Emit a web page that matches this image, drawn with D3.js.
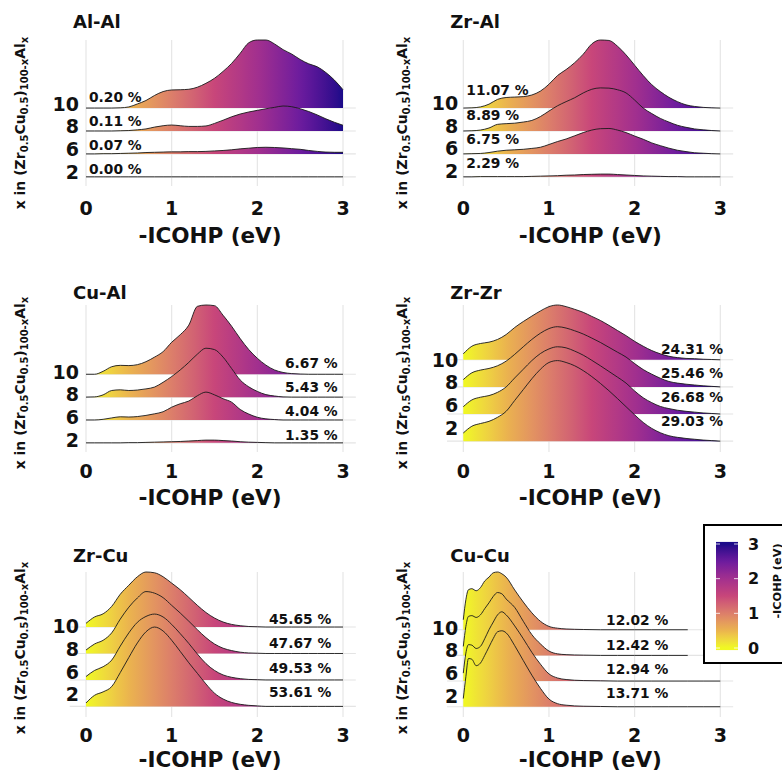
<!DOCTYPE html>
<html><head><meta charset="utf-8">
<script src="https://cdn.jsdelivr.net/npm/d3@7"></script>
<style>
body{margin:0;background:#fff}
svg{display:block}
text{font-family:"DejaVu Sans",sans-serif;font-weight:bold;fill:#111}
</style>
</head><body>
<svg id="chart" width="782" height="773"></svg>
<script>
// ---------------- DATA ----------------
const rowLabels = ["10", "8", "6", "2"];
const xTicks = [0, 1, 2, 3];
const legendTicks = [0, 1, 2, 3];
const xGrid = [0,0.1,0.2,0.3,0.4,0.5,0.6,0.7,0.8,0.9,1.0,1.1,1.2,1.3,1.4,1.5,1.6,1.7,1.8,1.9,2.0,2.1,2.2,2.3,2.4,2.5,2.6,2.7,2.8,2.9,3.0];
const xGridCuCu = [0,0.03,0.06,0.1,0.15,0.2,0.25,0.3,0.35,0.4,0.45,0.5,0.6,0.7,0.8,0.9,1.0,1.1,1.2,1.4,1.6,1.8,2.0,2.2,2.4,2.62,2.8,3.0];
// colour stops at -ICOHP = 0, 0.5, 1, ..., 3 eV
const paletteStops = ["#F0F921", "#EBB44E", "#DC7E6A", "#C8467A", "#A2308E", "#6C1C9E", "#1A0B89"];

// densities (row order: 10, 8, 6, 2), heights in row-spacing units
const densAlAl = [
  [0,0,0,0,0.01,0.05,0.18,0.33,0.55,0.72,0.79,0.80,0.82,0.91,1.08,1.30,1.60,1.95,2.39,2.85,2.97,2.97,2.80,2.55,2.36,2.12,1.93,1.80,1.55,1.22,0.80],
  [0,0,0,0,0.01,0.02,0.05,0.09,0.17,0.23,0.26,0.23,0.20,0.20,0.22,0.33,0.47,0.62,0.74,0.83,0.90,0.97,1.03,1.09,1.06,0.97,0.85,0.70,0.53,0.38,0.25],
  [0,0,0.01,0.01,0.02,0.03,0.04,0.06,0.07,0.08,0.09,0.09,0.10,0.10,0.11,0.13,0.15,0.18,0.22,0.25,0.28,0.29,0.28,0.26,0.23,0.20,0.15,0.11,0.08,0.07,0.07],
  [0,0,0,0,0,0,0,0,0,0,0,0,0,0,0,0,0,0,0,0,0,0,0,0,0,0,0,0,0,0,0]
];
const densZrAl = [
  [0,0.01,0.05,0.17,0.38,0.46,0.48,0.50,0.57,0.74,1.04,1.42,1.68,1.98,2.35,2.80,2.97,2.95,2.70,2.32,1.87,1.42,1.02,0.72,0.47,0.28,0.14,0.07,0.03,0.01,0],
  [0,0.01,0.04,0.13,0.29,0.32,0.34,0.39,0.46,0.63,0.87,1.10,1.28,1.45,1.66,1.82,1.88,1.87,1.80,1.66,1.35,1.00,0.76,0.55,0.39,0.25,0.16,0.09,0.05,0.02,0],
  [0,0.01,0.02,0.06,0.12,0.16,0.18,0.20,0.24,0.29,0.41,0.54,0.65,0.79,0.93,1.04,1.10,1.11,1.04,0.93,0.78,0.64,0.48,0.36,0.25,0.16,0.10,0.05,0.03,0.01,0],
  [0,0,0.01,0.01,0.01,0.01,0.01,0.01,0.02,0.03,0.04,0.05,0.07,0.08,0.10,0.11,0.12,0.12,0.10,0.08,0.06,0.04,0.03,0.02,0.01,0.01,0,0,0,0,0]
];
const densCuAl = [
  [0,0,0.13,0.33,0.39,0.38,0.42,0.55,0.75,0.99,1.40,1.73,2.15,2.97,3.03,3.00,2.58,2.10,1.56,1.08,0.70,0.40,0.19,0.08,0.03,0.01,0,0,0,0,0],
  [0,0.01,0.10,0.29,0.32,0.29,0.31,0.36,0.44,0.65,0.90,1.19,1.52,1.88,2.14,2.08,1.75,1.25,0.75,0.45,0.25,0.11,0.05,0.01,0,0,0,0,0,0,0],
  [0,0,0.03,0.09,0.14,0.13,0.15,0.20,0.27,0.36,0.56,0.71,0.83,1.06,1.22,1.10,0.93,0.78,0.46,0.26,0.12,0.05,0.02,0,0,0,0,0,0,0,0],
  [0,0,0,0,0,0.01,0.01,0.02,0.03,0.04,0.05,0.06,0.08,0.10,0.12,0.12,0.10,0.08,0.05,0.03,0.02,0.01,0,0,0,0,0,0,0,0,0]
];
const densZrZr = [
  [0.22,0.50,0.60,0.65,0.75,0.93,1.19,1.41,1.61,1.80,1.96,2.02,1.96,1.86,1.75,1.60,1.45,1.27,1.08,0.89,0.68,0.50,0.34,0.22,0.13,0.08,0.05,0.04,0.02,0.01,0],
  [0.27,0.52,0.62,0.68,0.78,0.95,1.20,1.48,1.75,1.98,2.15,2.22,2.17,2.07,1.95,1.80,1.64,1.46,1.28,1.10,0.86,0.64,0.47,0.32,0.20,0.14,0.10,0.07,0.04,0.02,0],
  [0.27,0.52,0.62,0.68,0.80,1.00,1.33,1.65,1.97,2.23,2.40,2.48,2.44,2.32,2.17,1.98,1.78,1.57,1.36,1.14,0.85,0.60,0.42,0.28,0.20,0.14,0.10,0.07,0.04,0.02,0],
  [0.30,0.55,0.65,0.73,0.88,1.10,1.50,1.90,2.30,2.65,2.90,2.97,2.90,2.78,2.60,2.38,2.13,1.86,1.57,1.27,0.97,0.69,0.47,0.31,0.20,0.14,0.10,0.07,0.04,0.02,0]
];
const densZrCu = [
  [0.14,0.38,0.50,0.78,1.24,1.58,1.90,2.08,2.05,1.90,1.66,1.41,1.12,0.82,0.55,0.34,0.19,0.10,0.05,0.02,0.01,0,0,0,0,0,0,0,0,0,0],
  [0.13,0.36,0.50,0.78,1.30,1.75,2.10,2.34,2.28,2.11,1.82,1.53,1.22,0.90,0.60,0.36,0.20,0.11,0.05,0.02,0.01,0,0,0,0,0,0,0,0,0,0],
  [0.13,0.36,0.50,0.75,1.28,1.78,2.18,2.40,2.49,2.38,2.10,1.75,1.38,0.98,0.62,0.36,0.19,0.10,0.05,0.02,0.01,0,0,0,0,0,0,0,0,0,0],
  [0.13,0.42,0.55,0.75,1.28,1.85,2.40,2.82,3.00,2.85,2.50,2.08,1.65,1.25,0.85,0.50,0.28,0.15,0.08,0.04,0.02,0,0,0,0,0,0,0,0,0,0]
];
const densCuCu = [
  [0.39,1.17,1.56,1.60,1.52,1.64,1.90,2.05,2.22,2.25,2.18,2.05,1.55,1.08,0.66,0.33,0.13,0.06,0.03,0.01,0,0,0,0,0,0,null,null],
  [0.35,1.13,1.52,1.55,1.48,1.58,1.82,2.05,2.30,2.45,2.40,2.20,1.87,1.33,0.81,0.45,0.17,0.06,0.03,0.01,0,0,0,0,0,0,null,null],
  [0.31,1.09,1.42,1.40,1.27,1.35,1.65,2.00,2.30,2.58,2.70,2.58,2.15,1.65,1.12,0.66,0.28,0.12,0.06,0.02,0.01,0,0,0,0,0,0,0],
  [0.32,1.17,1.88,1.85,1.60,1.70,2.00,2.33,2.66,2.92,2.96,2.88,2.38,1.80,1.23,0.72,0.30,0.12,0.06,0.02,0.01,0,0,0,0,0,0,0]
];

// percentage annotations (row order: 10, 8, 6, 2)
const pctAlAl = [0.20, 0.11, 0.07, 0.00];
const pctZrAl = [11.07, 8.89, 6.75, 2.29];
const pctCuAl = [6.67, 5.43, 4.04, 1.35];
const pctZrZr = [24.31, 25.46, 26.68, 29.03];
const pctZrCu = [45.65, 47.67, 49.53, 53.61];
const pctCuCu = [12.02, 12.42, 12.94, 13.71];

// ---------------- LAYOUT ----------------
const panels = [
  {name:"Al-Al", dens:densAlAl, xs:xGrid,     pct:pctAlAl, col:0, row:0, pctX:0.035, anchor:"start",  pctOff:11.3, tickOff:4.3, gridLeft:0},
  {name:"Zr-Al", dens:densZrAl, xs:xGrid,     pct:pctZrAl, col:1, row:0, pctX:0.035, anchor:"start",  pctOff:17.6, tickOff:5,   gridLeft:0},
  {name:"Cu-Al", dens:densCuAl, xs:xGrid,     pct:pctCuAl, col:0, row:1, pctX:2.63,  anchor:"middle", pctOff:11.6, tickOff:2.6, gridLeft:0},
  {name:"Zr-Zr", dens:densZrZr, xs:xGrid,     pct:pctZrZr, col:1, row:1, pctX:2.67,  anchor:"middle", pctOff:11,   tickOff:0,   gridLeft:-0.19},
  {name:"Zr-Cu", dens:densZrCu, xs:xGrid,     pct:pctZrCu, col:0, row:2, pctX:2.5,   anchor:"middle", pctOff:7.7,  tickOff:0.7, gridLeft:-0.19},
  {name:"Cu-Cu", dens:densCuCu, xs:xGridCuCu, pct:pctCuCu, col:1, row:2, pctX:2.03,  anchor:"middle", pctOff:9.3,  tickOff:2,   gridLeft:-0.19}
];
const colX0 = [86, 463.3];
const rowTop = [40, 305, 572];
const rowBottom = [186, 452, 717];
const titleBase = [28, 299, 562];
const tickBase = [215, 478, 742];
const xTitleBase = [243, 505, 767];
const yTitleCY = [123, 383, 648];
const yTitleX = [20, 402];

const svg = d3.select("#chart");
const pal = d3.piecewise(d3.interpolateLab, paletteStops);
const color = v => pal(Math.max(0, Math.min(3, v)) / 3);

// shared horizontal gradient (local panel coords, 0..3 eV -> 0..257 px)
const x = d3.scaleLinear().domain([0, 3]).range([0, 257]);
const defs = svg.append("defs");
const grad = defs.append("linearGradient").attr("id", "ridgeGrad")
  .attr("gradientUnits", "userSpaceOnUse")
  .attr("x1", x(0)).attr("x2", x(3)).attr("y1", 0).attr("y2", 0);
d3.range(0, 1.0001, 0.025).forEach(t => {
  grad.append("stop").attr("offset", t).attr("stop-color", color(t * 3));
});

panels.forEach(p => {
  const g = svg.append("g").attr("transform", `translate(${colX0[p.col]},0)`);
  const top = rowTop[p.row], bottom = rowBottom[p.row];
  let hi = 0;
  p.dens.forEach((arr, i) => {
    const r = 3 - i;
    arr.forEach(h => { if (h != null) hi = Math.max(hi, r + h); });
  });
  const y = d3.scaleLinear().domain([-0.4, hi]).range([bottom, top]);

  // grid
  p.dens.forEach((arr, i) => {
    g.append("line").attr("x1", x(p.gridLeft)).attr("x2", x(3.15))
      .attr("y1", y(3 - i)).attr("y2", y(3 - i))
      .attr("stroke", "#e4e4e4").attr("stroke-width", 1.1);
  });
  xTicks.forEach(t => {
    g.append("line").attr("x1", x(t)).attr("x2", x(t)).attr("y1", top).attr("y2", bottom)
      .attr("stroke", "#e4e4e4").attr("stroke-width", 1.1);
  });

  // ridges, back (10) to front (2)
  p.dens.forEach((arr, i) => {
    const r = 3 - i;
    const pts = p.xs.map((xv, k) => ({x: xv, h: arr[k]})).filter(d => d.h != null);
    const area = d3.area().x(d => x(d.x)).y0(y(r)).y1(d => y(r + d.h)).curve(d3.curveMonotoneX);
    const line = d3.line().x(d => x(d.x)).y(d => y(r + d.h)).curve(d3.curveMonotoneX);
    g.append("path").attr("d", area(pts)).attr("fill", "url(#ridgeGrad)");
    g.append("path").attr("d", line(pts)).attr("fill", "none")
      .attr("stroke", "#1a1a1a").attr("stroke-width", 0.9);
  });

  // percent labels
  const base10 = y(3);
  p.pct.forEach((v, i) => {
    g.append("text").attr("x", x(p.pctX)).attr("y", base10 - p.pctOff + i * 24.1)
      .attr("text-anchor", p.anchor).attr("dominant-baseline", "central")
      .style("font-size", "13.8px").text(v.toFixed(2) + " %");
  });

  // y tick labels
  rowLabels.forEach((lab, i) => {
    g.append("text").attr("x", p.col === 0 ? -7 : -5).attr("y", base10 - p.tickOff + i * 22.7)
      .attr("text-anchor", "end").attr("dominant-baseline", "central")
      .style("font-size", "19px").text(lab);
  });

  // x tick labels
  xTicks.forEach(t => {
    g.append("text").attr("x", x(t)).attr("y", tickBase[p.row])
      .attr("text-anchor", "middle").style("font-size", "19px").text(t);
  });

  // x axis title
  g.append("text").attr("x", p.col === 0 ? 124 : 127).attr("y", xTitleBase[p.row])
    .attr("text-anchor", "middle").style("font-size", "21.5px").text("-ICOHP (eV)");

  // panel title
  g.append("text").attr("x", -13).attr("y", titleBase[p.row])
    .style("font-size", "18px").text(p.name);

  // y axis title (rotated, with subscripts)
  const yt = svg.append("text")
    .attr("transform", `translate(${yTitleX[p.col]},${yTitleCY[p.row]}) rotate(-90)`)
    .attr("text-anchor", "middle").attr("dominant-baseline", "central")
    .style("font-size", "14px");
  const parts = [["x in (Zr", 0], ["0.5", 1], ["Cu", 0], ["0.5", 1], [")", 0], ["100-x", 1], ["Al", 0], ["x", 1]];
  let shifted = false;
  parts.forEach(([s, sub]) => {
    const ts = yt.append("tspan").text(s);
    if (sub && !shifted) { ts.attr("dy", 4).style("font-size", "10px"); shifted = true; }
    else if (sub) { ts.style("font-size", "10px"); }
    else if (!sub && shifted) { ts.attr("dy", -4); shifted = false; }
  });
});

// ---------------- LEGEND ----------------
const lg = svg.append("g");
lg.append("rect").attr("x", 704).attr("y", 525).attr("width", 90).attr("height", 138)
  .attr("fill", "#fff").attr("stroke", "#000").attr("stroke-width", 2);
const ly = d3.scaleLinear().domain([0, 3]).range([648, 544]);
const lgrad = defs.append("linearGradient").attr("id", "legGrad")
  .attr("x1", 0).attr("x2", 0).attr("y1", 1).attr("y2", 0);
d3.range(0, 1.0001, 0.025).forEach(t => {
  lgrad.append("stop").attr("offset", t).attr("stop-color", color(-0.06 + t * 3.12));
});
lg.append("rect").attr("x", 716).attr("y", ly(3.06)).attr("width", 22)
  .attr("height", ly(-0.06) - ly(3.06)).attr("fill", "url(#legGrad)");
legendTicks.forEach(t => {
  [[716, 720], [734, 738]].forEach(([a, b]) => {
    lg.append("line").attr("x1", a).attr("x2", b).attr("y1", ly(t)).attr("y2", ly(t))
      .attr("stroke", "#fff").attr("stroke-width", 1).attr("opacity", 0.8);
  });
  lg.append("text").attr("x", 748).attr("y", ly(t)).attr("dominant-baseline", "central")
    .style("font-size", "16px").text(t);
});
lg.append("text").attr("transform", "translate(777,581) rotate(-90)")
  .attr("text-anchor", "middle").attr("dominant-baseline", "central")
  .style("font-size", "11.3px").text("-ICOHP (eV)");
</script>
</body></html>
